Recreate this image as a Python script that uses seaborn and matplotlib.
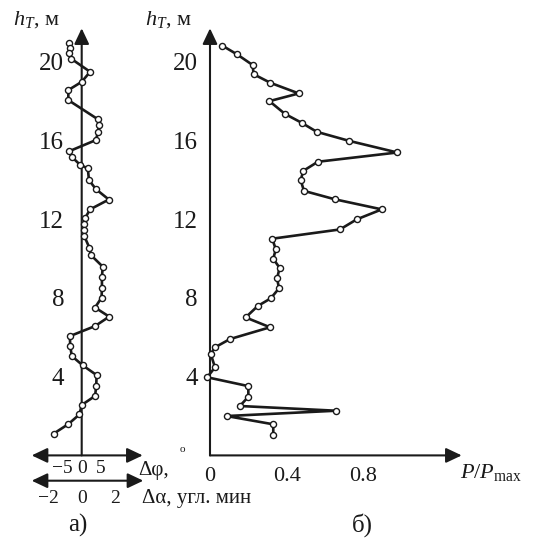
import matplotlib
matplotlib.use("Agg")
import matplotlib.pyplot as plt
import pandas as pd
import seaborn as sns

sns.set_theme(style="white")
plt.rcParams["font.family"] = ["Liberation Serif", "DejaVu Serif"]
plt.rcParams["mathtext.fontset"] = "custom"
plt.rcParams["mathtext.rm"] = "Liberation Serif"
plt.rcParams["mathtext.it"] = "Liberation Serif:italic"
plt.rcParams["axes.unicode_minus"] = True

# (a) angular deviation profile: height h_T, m and deviation Δφ
h_a = [20.95, 20.68, 20.44, 20.16, 19.49, 18.98, 18.56, 18.05, 17.07, 16.78,
       16.44, 16.02, 15.46, 15.17, 14.77, 14.58, 13.99, 13.53, 13.00, 12.50,
       12.06, 11.75, 11.45, 11.14, 10.55, 10.18, 9.59, 9.06, 8.50, 8.02,
       7.51, 7.05, 6.57, 6.06, 5.56, 5.05, 4.57, 4.08, 3.52, 3.02,
       2.56, 2.08, 1.59, 1.11]
dphi = [-3.2, -3.1, -3.2, -2.8, 2.2, 0.0, -3.5, -3.5, 4.3, 4.5,
        4.3, 3.7, -3.2, -2.6, -0.45, 1.6, 1.9, 3.7, 7.1, 2.2,
        0.9, 0.7, 0.7, 0.7, 2.0, 2.4, 5.5, 5.3, 5.3, 5.2,
        3.5, 7.2, 3.5, -3.1, -3.0, -2.6, 0.3, 3.9, 3.8, 3.5,
        0.0, -0.6, -3.5, -7.3]

# (b) relative power profile: height h_T, m and P/Pmax
h_b = [20.82, 20.37, 19.83, 19.37, 18.93, 18.39, 18.00, 17.35, 16.90, 16.44,
       15.98, 15.39, 14.92, 14.46, 13.99, 13.44, 13.01, 12.50, 11.99, 11.48,
       11.01, 10.47, 9.99, 9.53, 8.99, 8.49, 7.98, 7.59, 7.01, 6.51,
       5.91, 5.49, 5.15, 4.47, 3.97, 3.52, 2.98, 2.51, 2.27, 2.00,
       1.58, 1.04]
p_rel = [0.064, 0.142, 0.223, 0.227, 0.315, 0.463, 0.310, 0.391, 0.478, 0.557,
         0.726, 0.977, 0.563, 0.487, 0.473, 0.490, 0.652, 0.896, 0.765, 0.678,
         0.325, 0.343, 0.330, 0.363, 0.350, 0.360, 0.317, 0.249, 0.186, 0.313,
         0.104, 0.026, 0.004, 0.026, -0.015, 0.200, 0.200, 0.156, 0.657, 0.087,
         0.330, 0.330]

h_ticks = [2, 4, 6, 8, 10, 12, 14, 16, 18, 20]
h_labels = ["", "4", "", "8", "", "12", "", "16", "", "20"]
dphi_ticks = [-5, 0, 5, 10]
dphi_labels = ["\u22125", "0", "5", ""]
dalpha_ticks = [-2, 0, 2]
dalpha_labels = ["\u22122", "0", "2"]
p_ticks = [0, 0.16, 0.4, 0.6, 0.8, 1.0]
p_labels = ["0", "", "0.4", "", "0.8", ""]

W, H = 539, 545
fig = plt.figure(figsize=(W / 100, H / 100), dpi=100)


def box(x0, x1, y_top, y_bot):
    return [x0 / W, 1 - y_bot / H, (x1 - x0) / W, (y_bot - y_top) / H]


LW = 1.5
ARROW = "-|>,head_length=0.95,head_width=0.45"
ARROW2 = "<|-|>,head_length=0.95,head_width=0.45"


def arrow(ax, start, end, style, coords):
    ax.annotate("", xy=end, xytext=start, xycoords=coords, textcoords=coords,
                arrowprops=dict(arrowstyle=style, lw=LW, color="k",
                                shrinkA=0, shrinkB=0, mutation_scale=10),
                annotation_clip=False)


def bare(ax):
    ax.set_facecolor("none")
    for s in ax.spines.values():
        s.set_visible(False)
    ax.grid(False)


line_kw = dict(sort=False, estimator=None, color="k", linewidth=1.9,
               marker="o", markersize=4.4, markerfacecolor="white",
               markeredgecolor="k", markeredgewidth=1.0, clip_on=False,
               zorder=5)

# ---- panel (a) ----
ax_a = fig.add_axes(box(31.7, 142.7, 28.3, 455.4))
bare(ax_a)
sns.lineplot(data=pd.DataFrame({"dphi": dphi, "h": h_a}), x="dphi", y="h",
             ax=ax_a, **line_kw)
ax_a.set_xlim(-13.09, 15.97)
ax_a.set_ylim(0, 21.7)
ax_a.spines["left"].set_position(("data", 0))
ax_a.set_yticks(h_ticks, h_labels)
ax_a.set_xticks(dphi_ticks, dphi_labels)
ax_a.tick_params(axis="y", direction="in", length=6.5, width=1.3, pad=12.5,
                 labelsize=18, colors="k")
ax_a.tick_params(axis="x", direction="in", length=6, width=1.3, pad=3.5,
                 labelsize=14, colors="k")
ax_a.set_xlabel("")
ax_a.set_ylabel("")
arrow(ax_a, (0, 0), (1, 0), ARROW2, "axes fraction")
arrow(ax_a, (0, 0), (0, 1), ARROW, ax_a.get_xaxis_transform())

# secondary scale Δα
ax_c = fig.add_axes(box(31.7, 143.3, 479.7, 480.7))
bare(ax_c)
ax_c.set_xlim(-3.0, 3.70)
ax_c.set_ylim(0, 1)
ax_c.set_yticks([])
ax_c.set_xticks(dalpha_ticks, dalpha_labels)
ax_c.tick_params(axis="x", direction="in", length=6, width=1.3, pad=7,
                 labelsize=14, colors="k")
arrow(ax_c, (0, 0), (1, 0), ARROW2, "axes fraction")

# ---- panel (b) ----
ax_b = fig.add_axes(box(210, 461.7, 28.3, 455.4))
bare(ax_b)
sns.lineplot(data=pd.DataFrame({"p": p_rel, "h": h_b}), x="p", y="h",
             ax=ax_b, **line_kw)
ax_b.set_xlim(0, 1.313)
ax_b.set_ylim(0, 21.7)
ax_b.set_yticks(h_ticks, h_labels)
ax_b.set_xticks(p_ticks, p_labels)
ax_b.tick_params(axis="y", direction="in", length=6.5, width=1.3, pad=9,
                 labelsize=18, colors="k")
ax_b.tick_params(axis="x", direction="in", length=6, width=1.3, pad=8,
                 labelsize=16, colors="k")
ax_b.set_xlabel("")
ax_b.set_ylabel("")
arrow(ax_b, (0, 0), (1, 0), ARROW, "axes fraction")
arrow(ax_b, (0, 0), (0, 1), ARROW, "axes fraction")

# ---- labels ----
def ftext(x, y, s, **kw):
    fig.text(x / W, 1 - y / H, s, color="k", **kw)


ftext(13, 25, r"$h_T$, м", fontsize=16, va="baseline")
ftext(145, 25, r"$h_T$, м", fontsize=16, va="baseline")
ftext(138, 475, "Δφ,", fontsize=15, va="baseline")
ftext(182, 450, "o", fontsize=8, ha="center", va="center")
ftext(142, 503, "Δα, угл. мин", fontsize=15, va="baseline")
ftext(460, 477.7, r"$P/P_{\mathrm{max}}$", fontsize=16, va="baseline")
ftext(78, 525, "а)", fontsize=18, ha="center", va="center")
ftext(362, 525, "б)", fontsize=18, ha="center", va="center")

fig.savefig("out.png", dpi=100)
